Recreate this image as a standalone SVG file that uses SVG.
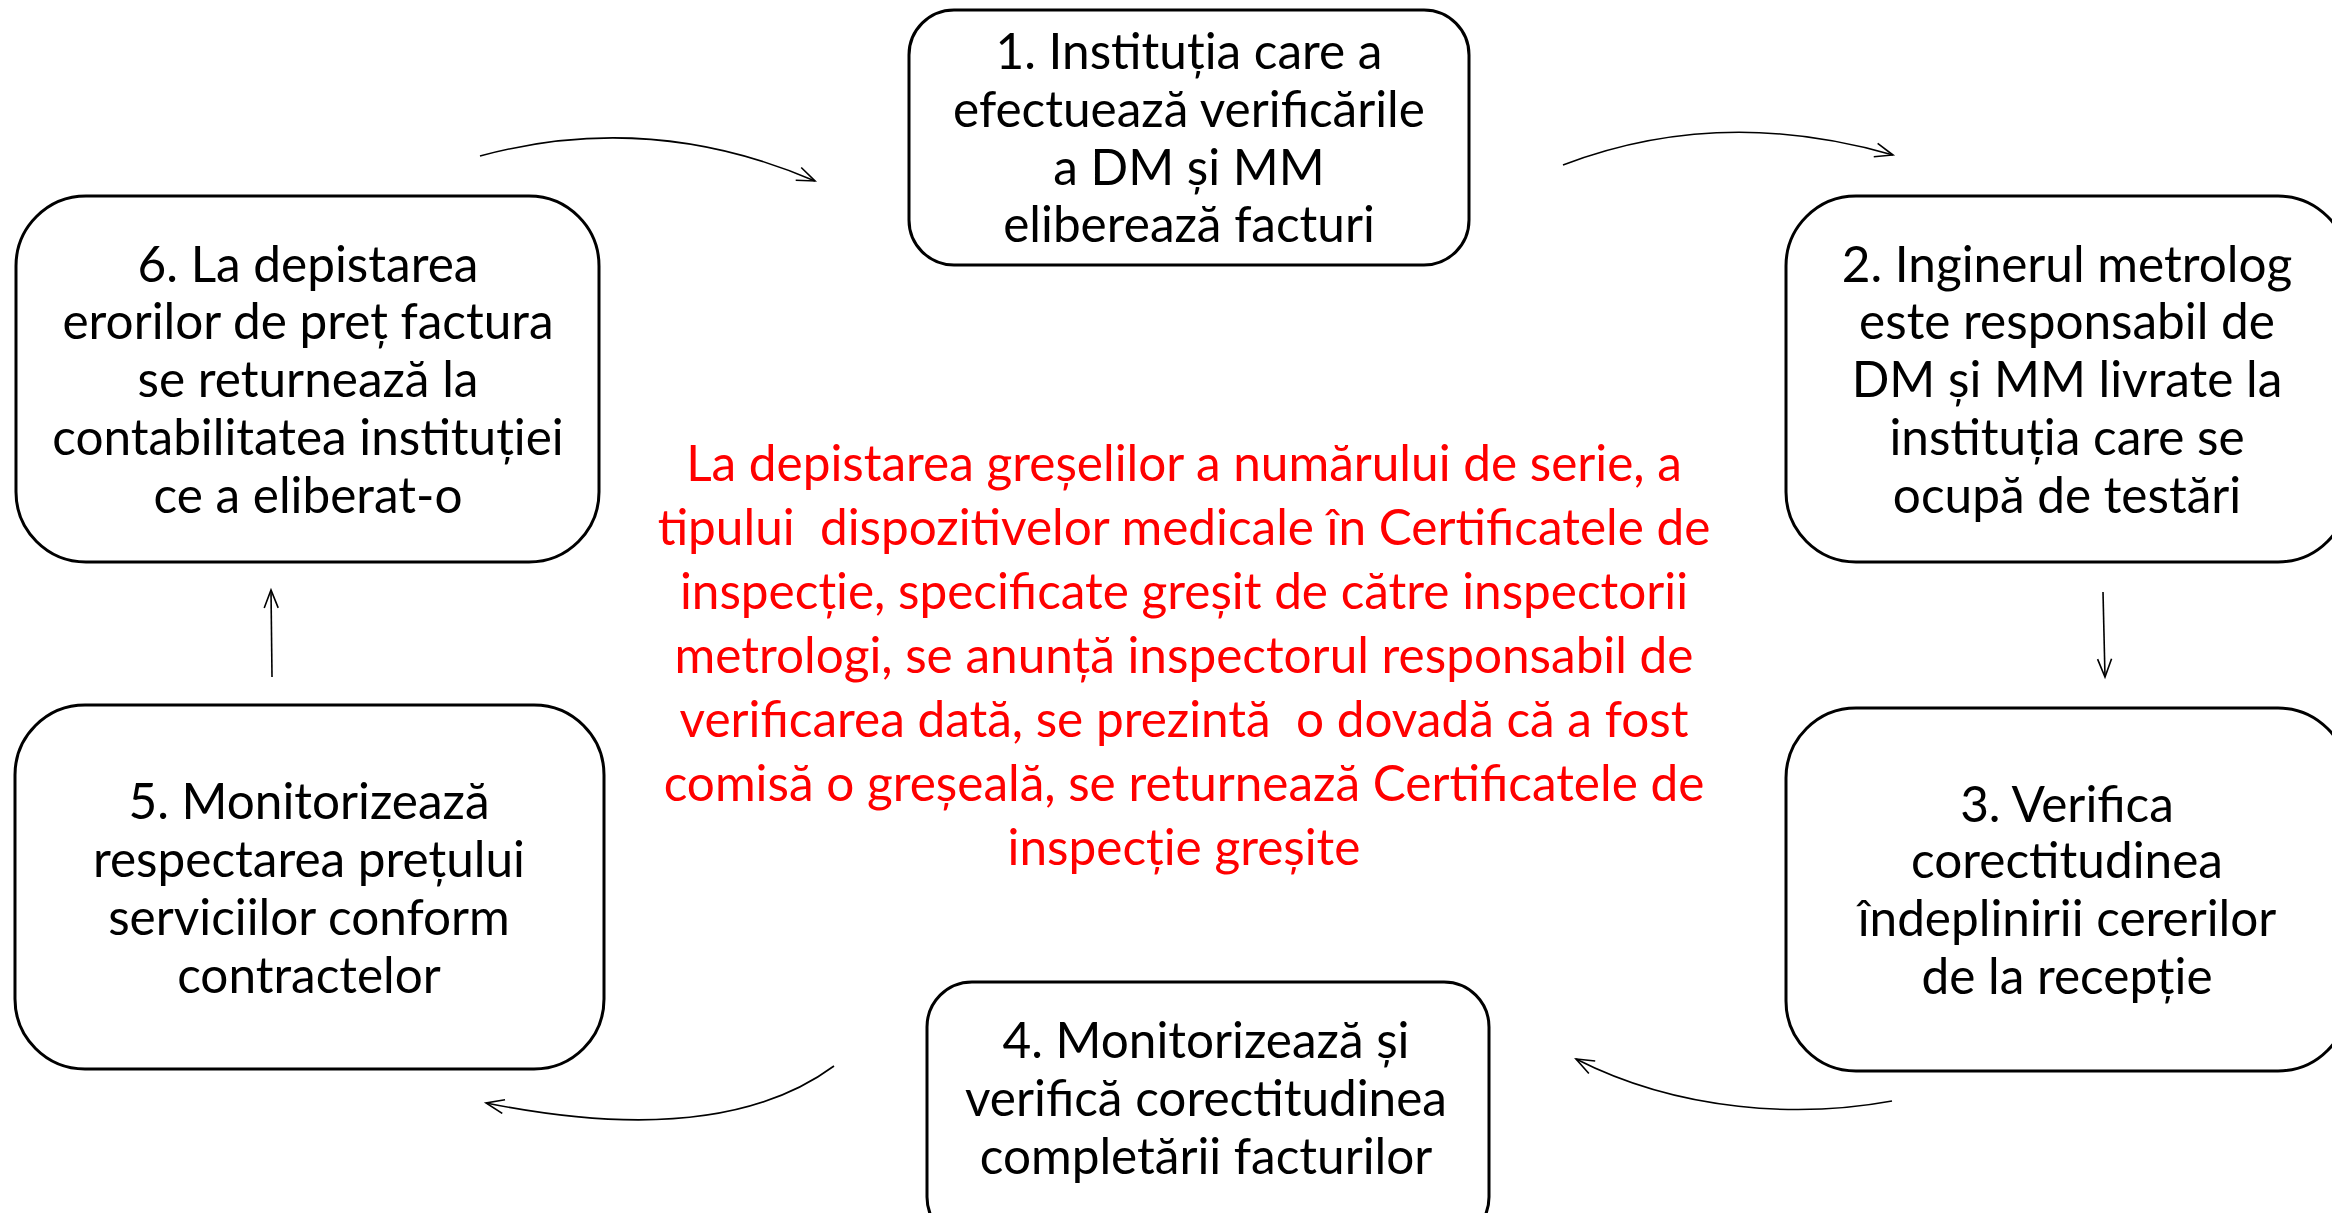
<svg xmlns="http://www.w3.org/2000/svg" width="2332" height="1213" viewBox="0 0 2332 1213">
<defs>
<style>
.box{fill:#fff;stroke:#000;stroke-width:3}
.t{font-family:Lato,"Liberation Sans",sans-serif;font-size:49.5px;fill:#000;text-anchor:middle}
.r{font-family:Lato,"Liberation Sans",sans-serif;font-size:49.5px;fill:#ff0000;text-anchor:middle}
.c{fill:none;stroke:#000;stroke-width:1.6}
</style>
<marker id="ah" markerUnits="userSpaceOnUse" markerWidth="22" markerHeight="18" refX="19" refY="8" orient="auto">
<path d="M1,1 L19,8 L1,15" fill="none" stroke="#000" stroke-width="1.6"/>
</marker>
</defs>
<rect width="2332" height="1213" fill="#fff"/>
<g id="connectors">
<path class="c" d="M480,156 Q650,110 815,181" marker-end="url(#ah)"/>
<path class="c" d="M1563,165 Q1720,105 1893,155" marker-end="url(#ah)"/>
<path class="c" d="M2103,592 L2105,677" marker-end="url(#ah)"/>
<path class="c" d="M1892,1101 C1800,1118 1680,1112 1576,1059" marker-end="url(#ah)"/>
<path class="c" d="M834,1066 Q720,1150 486,1103" marker-end="url(#ah)"/>
<path class="c" d="M272,677 L271,590" marker-end="url(#ah)"/>
</g>
<g id="node1">
<rect class="box" x="909" y="10" width="560" height="255" rx="45"/>
<text class="t"><tspan x="1189" y="69">1. Instituția care a</tspan><tspan x="1189" y="127">efectuează verificările</tspan><tspan x="1189" y="185">a DM și MM</tspan><tspan x="1189" y="242">eliberează facturi</tspan></text>
</g>
<g id="node2">
<rect class="box" x="1786" y="196" width="562" height="366" rx="70"/>
<text class="t"><tspan x="2067" y="282">2. Inginerul metrolog</tspan><tspan x="2067" y="339">este responsabil de</tspan><tspan x="2067" y="397">DM și MM livrate la</tspan><tspan x="2067" y="455">instituția care se</tspan><tspan x="2067" y="513">ocupă de testări</tspan></text>
</g>
<g id="node3">
<rect class="box" x="1786" y="708" width="562" height="363" rx="70"/>
<text class="t"><tspan x="2067" y="822">3. Verifica</tspan><tspan x="2067" y="878">corectitudinea</tspan><tspan x="2067" y="936">îndeplinirii cererilor</tspan><tspan x="2067" y="994">de la recepție</tspan></text>
</g>
<g id="node4">
<rect class="box" x="927" y="982" width="562" height="260" rx="45"/>
<text class="t"><tspan x="1206" y="1058">4. Monitorizează și</tspan><tspan x="1206" y="1116">verifică corectitudinea</tspan><tspan x="1206" y="1174">completării facturilor</tspan></text>
</g>
<g id="node5">
<rect class="box" x="15" y="705" width="589" height="364" rx="70"/>
<text class="t"><tspan x="309" y="819">5. Monitorizează</tspan><tspan x="309" y="877">respectarea prețului</tspan><tspan x="309" y="935">serviciilor conform</tspan><tspan x="309" y="993">contractelor</tspan></text>
</g>
<g id="node6">
<rect class="box" x="16" y="196" width="583" height="366" rx="70"/>
<text class="t"><tspan x="308" y="282">6. La depistarea</tspan><tspan x="308" y="339">erorilor de preț factura</tspan><tspan x="308" y="397">se returnează la</tspan><tspan x="308" y="455">contabilitatea instituției</tspan><tspan x="308" y="513">ce a eliberat-o</tspan></text>
</g>
<g id="note">
<text class="r" xml:space="preserve"><tspan x="1184" y="481">La depistarea greșelilor a numărului de serie, a</tspan><tspan x="1184" y="545">tipului  dispozitivelor medicale în Certificatele de</tspan><tspan x="1184" y="609">inspecție, specificate greșit de către inspectorii</tspan><tspan x="1184" y="673">metrologi, se anunță inspectorul responsabil de</tspan><tspan x="1184" y="737">verificarea dată, se prezintă  o dovadă că a fost</tspan><tspan x="1184" y="801">comisă o greșeală, se returnează Certificatele de</tspan><tspan x="1184" y="865">inspecție greșite</tspan></text>
</g>
</svg>
